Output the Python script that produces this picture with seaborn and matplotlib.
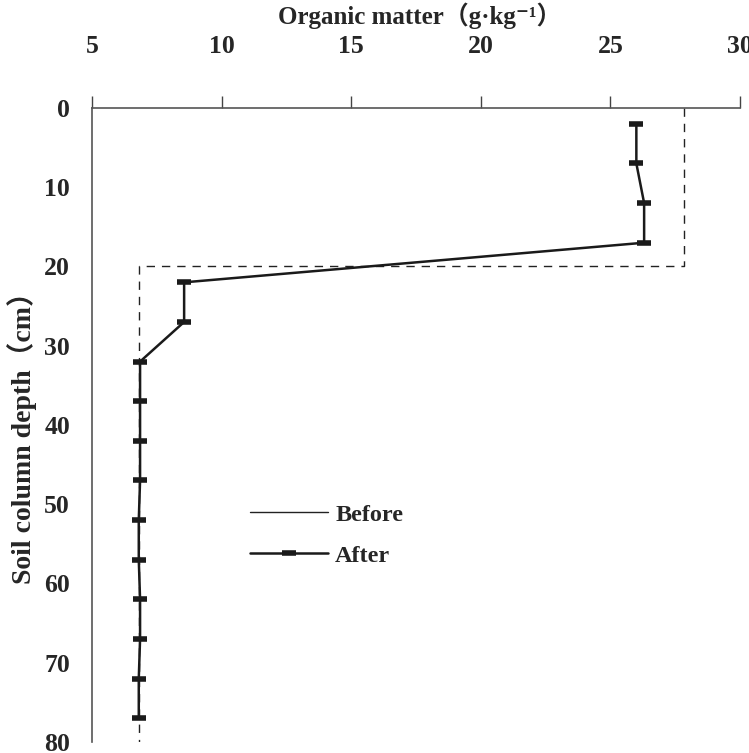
import matplotlib
matplotlib.use("Agg")
import matplotlib.pyplot as plt
import seaborn as sns
import pandas as pd
from matplotlib.lines import Line2D

# Organic matter profile of the soil column
before_om = [27.85, 27.85, 6.8, 6.8]
before_depth = [0, 20, 20, 80]

after_depth = [2, 7, 12, 17, 22, 27, 32, 37, 42, 47, 52, 57, 62, 67, 72, 77]
after_om = [26.0, 26.0, 26.3, 26.3, 8.55, 8.55, 6.85, 6.85, 6.85, 6.85,
            6.8, 6.8, 6.85, 6.85, 6.8, 6.8]

x_ticks = [5, 10, 15, 20, 25, 30]
y_ticks = [0, 10, 20, 30, 40, 50, 60, 70, 80]

sns.set_theme(style="white")
fonts = ["Liberation Serif", "Noto Sans CJK SC", "DejaVu Serif"]
plt.rcParams["font.family"] = fonts
plt.rcParams["font.weight"] = "bold"

df_before = pd.DataFrame({"om": before_om, "depth": before_depth})
df_after = pd.DataFrame({"om": after_om, "depth": after_depth})

fig = plt.figure(figsize=(7.49, 7.53), dpi=100)
ax = fig.add_axes([0.123, 0.0146, 0.865, 0.842])

sns.lineplot(data=df_before, x="om", y="depth", sort=False, estimator=None,
             ax=ax, color="#222222", linewidth=1.0, linestyle=(0, (6, 5)))
sns.lineplot(data=df_after, x="om", y="depth", sort=False, estimator=None,
             ax=ax, color="#1a1a1a", linewidth=1.8, marker="_",
             markersize=10, markeredgewidth=4, markeredgecolor="#1a1a1a")

ax.set_xlim(5, 30)
ax.set_ylim(80, 0)
ax.xaxis.tick_top()
ax.xaxis.set_label_position("top")
ax.set_xticks(x_ticks)
ax.set_yticks(y_ticks)
ax.tick_params(axis="x", direction="out", length=9, width=1, color="#444444",
               labelsize=18.5, pad=27)
ax.tick_params(axis="y", direction="out", length=6, width=1, color="#444444",
               labelsize=18.5, pad=10)
for lab in ax.get_xticklabels() + ax.get_yticklabels():
    lab.set_fontweight("bold")

for side in ["right", "bottom"]:
    ax.spines[side].set_visible(False)
for side in ["top", "left"]:
    ax.spines[side].set_color("#555555")
    ax.spines[side].set_linewidth(1.2)

ax.set_xlabel("Organic matter（g·kg⁻¹）", fontsize=18, fontweight="bold",
              family=fonts)
ax.xaxis.set_label_coords(0.505, 1.145)
ax.xaxis.label.set_va("center")
ax.set_ylabel("Soil column depth（cm）", fontsize=20, fontweight="bold",
              family=fonts)
ax.yaxis.set_label_coords(-0.108, 0.49)
ax.yaxis.label.set_va("center")

handles = [
    Line2D([], [], color="#222222", linewidth=1.0),
    Line2D([], [], color="#1a1a1a", linewidth=1.8, marker="_",
           markersize=10, markeredgewidth=4),
]
leg = ax.legend(handles, ["Before", "After"], loc="upper left",
                bbox_to_anchor=(0.21, 0.41), frameon=False, fontsize=17.5,
                handlelength=3.2, labelspacing=0.78, handletextpad=0.3)
for t in leg.get_texts():
    t.set_fontweight("bold")

fig.savefig("out.png", dpi=100)
